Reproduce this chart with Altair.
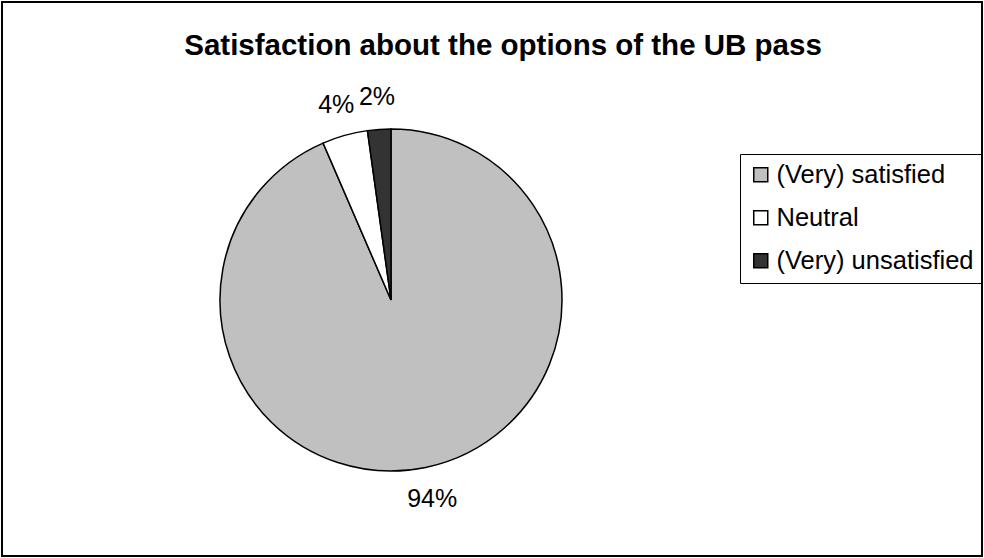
import altair as alt
import pandas as pd

categories = ["(Very) satisfied", "Neutral", "(Very) unsatisfied"]
values = [93.5, 4.3, 2.2]
labels = ["94%", "4%", "2%"]
colors = ["#C0C0C0", "#FFFFFF", "#333333"]
title_text = "Satisfaction about the options of the UB pass"

df = pd.DataFrame({
    "category": categories,
    "value": values,
    "label": labels,
    "idx": list(range(len(categories))),
})

FONT = "Liberation Sans"
CX, CY = 389, 298

base = alt.Chart(df).encode(
    theta=alt.Theta("value:Q", stack=True),
    order=alt.Order("idx:Q", sort="ascending"),
)

pie = base.mark_arc(outerRadius=171, stroke="black", strokeWidth=1.5).encode(
    x=alt.value(CX),
    y=alt.value(CY),
    color=alt.Color(
        "category:N",
        scale=alt.Scale(domain=categories, range=colors),
        sort=categories,
        legend=alt.Legend(
            title=None,
            orient="none",
            legendX=738,
            legendY=152,
            symbolType="square",
            symbolSize=196,
            symbolStrokeColor="black",
            symbolStrokeWidth=1.5,
            symbolOpacity=1,
            labelFontSize=25.5,
            labelFont=FONT,
            labelColor="black",
            labelOffset=3,
            labelLimit=400,
            rowPadding=16,
            padding=8,
            strokeColor="black",
        ),
    ),
)

text = base.mark_text(radius=203, fontSize=25, font=FONT, color="black").encode(
    x=alt.value(CX),
    y=alt.value(CY),
    text="label:N",
)

title_df = pd.DataFrame({"t": [title_text]})
title = alt.Chart(title_df).mark_text(
    font=FONT, fontSize=29.5, fontWeight="bold", color="black",
    align="center", baseline="alphabetic",
).encode(
    x=alt.value(501),
    y=alt.value(53),
    text="t:N",
)

chart = alt.layer(pie, text, title).properties(
    width=980,
    height=554,
    padding=2,
    autosize="none",
    background="white",
).configure_view(
    stroke="black",
    strokeWidth=2,
)

chart.save("out.html", embed_options={"renderer": "svg", "actions": False})
